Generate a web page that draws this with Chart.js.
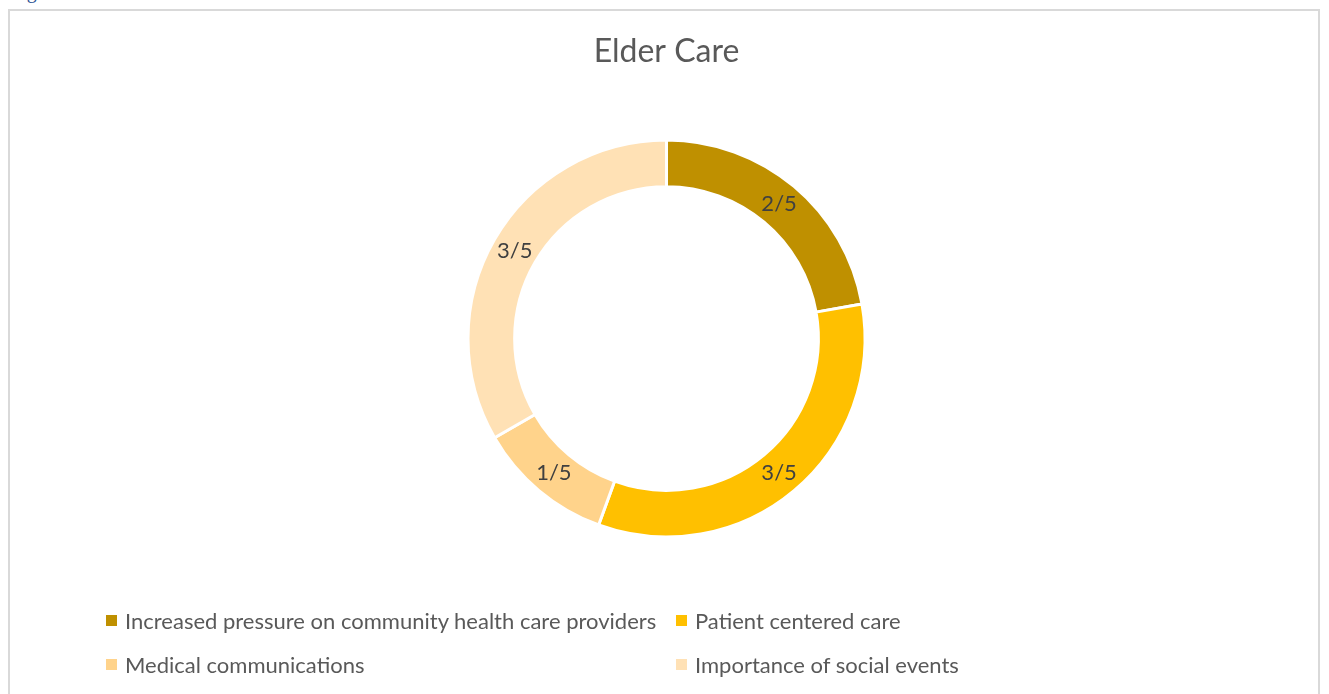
<!DOCTYPE html>
<html>
<head>
<meta charset="utf-8">
<script src="https://cdn.jsdelivr.net/npm/chart.js@4.4.1/dist/chart.umd.min.js"></script>
<style>
  body { margin: 0; background: #fff; width: 1329px; height: 694px; overflow: hidden; position: relative; font-family: Lato, "Noto Sans", sans-serif; }
  .caption { position: absolute; left: 10px; top: -19px; font-family: "Liberation Serif", serif; font-size: 20px; line-height: 20px; color: #2F5496; }
  .frame { position: absolute; left: 8px; top: 9px; width: 1312px; height: 700px; border: 2px solid #D9D9D9; box-sizing: border-box; }
  #wrap { position: absolute; left: 9px; top: 10px; width: 1312px; height: 684px; }
  .legend { position: absolute; left: 0; top: 0; }
  .legend .item { position: absolute; display: flex; align-items: center; font-size: 22px; color: #595959; white-space: nowrap; }
  .legend .box { width: 11px; height: 11px; margin-right: 8px; }
</style>
</head>
<body>
<div class="caption">Figure 3: Elder care</div>
<div class="frame"></div>
<div id="wrap"><canvas id="elderChart"></canvas></div>
<div class="legend" id="legend"></div>
<script>
// chart data
const chartTitle = "Elder Care";
const categories = [
  "Increased pressure on community health care providers",
  "Patient centered care",
  "Medical communications",
  "Importance of social events"
];
const counts = [2, 3, 1, 3];
const pointLabels = ["2/5", "3/5", "1/5", "3/5"];
const sliceColors = ["#BF9000", "#FFC000", "#FFD38B", "#FFE1B5"];

// legend grid spots (page px)
const legendSpots = [[106, 621], [676, 621], [106, 665], [676, 665]];

// draw "n/5" text in the middle of each ring segment
const sliceLabels = {
  id: "sliceLabels",
  afterDatasetsDraw(chart) {
    const ctx = chart.ctx;
    const meta = chart.getDatasetMeta(0);
    ctx.save();
    ctx.font = "22px Lato, 'Noto Sans', sans-serif";
    ctx.fillStyle = "#404040";
    ctx.textAlign = "center";
    ctx.textBaseline = "middle";
    meta.data.forEach((arc, i) => {
      const pos = arc.tooltipPosition();
      ctx.fillText(pointLabels[i], pos.x, pos.y);
    });
    ctx.restore();
  }
};

new Chart(document.getElementById("elderChart"), {
  type: "doughnut",
  data: {
    labels: categories,
    datasets: [{
      data: counts,
      backgroundColor: sliceColors,
      borderColor: "#ffffff",
      borderWidth: 3,
      hoverOffset: 0
    }]
  },
  options: {
    responsive: true,
    maintainAspectRatio: false,
    animation: false,
    cutout: "76.5%",
    layout: { padding: { top: 10, bottom: 155.5, left: 3, right: 0 } },
    plugins: {
      legend: { display: false },
      tooltip: { enabled: false },
      title: {
        display: true,
        text: chartTitle,
        color: "#595959",
        font: { family: "Lato, 'Noto Sans', sans-serif", size: 32, weight: "normal", lineHeight: 1.125 },
        padding: { top: 14, bottom: 68.5 }
      }
    }
  },
  plugins: [sliceLabels]
});

// html legend built from the same arrays
const legendEl = document.getElementById("legend");
categories.forEach((name, i) => {
  const item = document.createElement("div");
  item.className = "item";
  item.style.left = legendSpots[i][0] + "px";
  item.style.top = (legendSpots[i][1] - 14) + "px";
  const box = document.createElement("span");
  box.className = "box";
  box.style.background = sliceColors[i];
  const txt = document.createElement("span");
  txt.textContent = name;
  item.appendChild(box);
  item.appendChild(txt);
  legendEl.appendChild(item);
});
</script>
</body>
</html>
